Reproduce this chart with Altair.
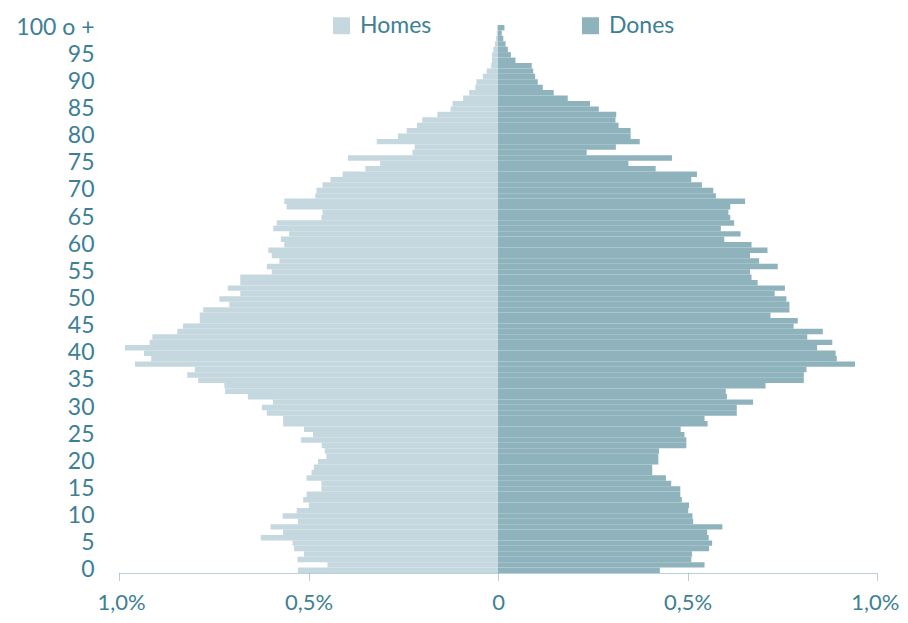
import altair as alt
import pandas as pd

ages = list(range(101))

homes = [0.528, 0.45, 0.529, 0.512, 0.538, 0.542, 0.626, 0.567, 0.6, 0.528,
         0.568, 0.531, 0.499, 0.514, 0.505, 0.466, 0.466, 0.505, 0.492, 0.486,
         0.475, 0.453, 0.457, 0.465, 0.52, 0.488, 0.512, 0.567, 0.567, 0.61,
         0.623, 0.594, 0.66, 0.72, 0.722, 0.791, 0.82, 0.80, 0.958, 0.915,
         0.934, 0.984, 0.919, 0.912, 0.846, 0.831, 0.787, 0.787, 0.778, 0.709,
         0.735, 0.68, 0.713, 0.68, 0.68, 0.597, 0.61, 0.577, 0.597, 0.606,
         0.564, 0.573, 0.551, 0.593, 0.584, 0.466, 0.463, 0.558, 0.564, 0.482,
         0.479, 0.463, 0.442, 0.41, 0.35, 0.311, 0.396, 0.226, 0.22, 0.32,
         0.264, 0.241, 0.214, 0.20, 0.16, 0.125, 0.12, 0.092, 0.076, 0.06,
         0.057, 0.04, 0.03, 0.018, 0.016, 0.016, 0.012, 0.008, 0.005, 0.003, 0.002]

dones = [0.427, 0.545, 0.51, 0.512, 0.557, 0.565, 0.556, 0.552, 0.592, 0.515,
         0.513, 0.502, 0.504, 0.485, 0.481, 0.481, 0.457, 0.443, 0.407, 0.407,
         0.423, 0.423, 0.425, 0.497, 0.497, 0.492, 0.482, 0.553, 0.545, 0.63,
         0.63, 0.673, 0.604, 0.601, 0.706, 0.807, 0.807, 0.814, 0.942, 0.894,
         0.891, 0.842, 0.882, 0.816, 0.857, 0.78, 0.791, 0.719, 0.769, 0.769,
         0.761, 0.73, 0.757, 0.685, 0.669, 0.665, 0.738, 0.689, 0.665, 0.711,
         0.669, 0.597, 0.64, 0.588, 0.623, 0.613, 0.608, 0.613, 0.652, 0.575,
         0.568, 0.538, 0.51, 0.525, 0.416, 0.344, 0.459, 0.234, 0.311, 0.374,
         0.35, 0.35, 0.318, 0.31, 0.312, 0.266, 0.243, 0.184, 0.147, 0.118,
         0.105, 0.098, 0.093, 0.089, 0.046, 0.034, 0.026, 0.020, 0.014, 0.010, 0.017]

sexes = ["Homes", "Dones"]
colors = ["#c6d8df", "#8fb3bd"]
x_ticks = [-1.0, -0.5, 0.0, 0.5, 1.0]

rows = []
for a, h, d in zip(ages, homes, dones):
    rows.append({"edat": a, "sexe": "Homes", "pct": -h})
    rows.append({"edat": a, "sexe": "Dones", "pct": d})
df = pd.DataFrame(rows)

TEXT = "#3d8095"
AXIS = "#6aa3b4"
FONT = "Lato"

chart = alt.Chart(df).mark_bar().encode(
    x=alt.X(
        "pct:Q",
        scale=alt.Scale(domain=[-1, 1], nice=False),
        axis=alt.Axis(
            values=x_ticks, title=None, grid=False,
            labelExpr="datum.value == 0 ? '0' : replace(format(abs(datum.value), '.1f'), '.', ',') + '%'",
            domainColor=AXIS, domainDash=[1, 1], domainWidth=1,
            tickColor=AXIS, tickDash=[1, 1], tickSize=7, tickWidth=1,
            labelPadding=12, labelFlush=True, labelFlushOffset=22,
            labelOverlap=False, labelFontSize=22,
        ),
    ),
    y=alt.Y(
        "edat:O",
        sort="descending",
        scale=alt.Scale(paddingInner=0, paddingOuter=0),
        axis=alt.Axis(
            title=None, ticks=False, domain=False, labelPadding=25,
            labelOverlap=False,
            labelExpr="datum.value % 5 == 0 ? (datum.value == 100 ? '100 o +' : datum.label) : ''",
        ),
    ),
    color=alt.Color(
        "sexe:N",
        scale=alt.Scale(domain=sexes, range=colors),
        legend=alt.Legend(
            title=None, orient="none", legendX=211, legendY=-11,
            direction="horizontal", symbolType="square", symbolSize=289,
            symbolStrokeWidth=0, labelFontSize=23, labelColor=TEXT,
            labelFont=FONT, labelOffset=7, columnPadding=147, padding=0,
        ),
    ),
).properties(
    width=758,
    height=548,
    autosize=alt.AutoSizeParams(type="none"),
    padding={"left": 111, "top": 17, "right": 23, "bottom": 42},
).configure_view(
    stroke=None
).configure_axis(
    labelFont=FONT, labelColor=TEXT, labelFontSize=23
)

chart.save("out.html", embed_options={"renderer": "svg", "actions": False})
